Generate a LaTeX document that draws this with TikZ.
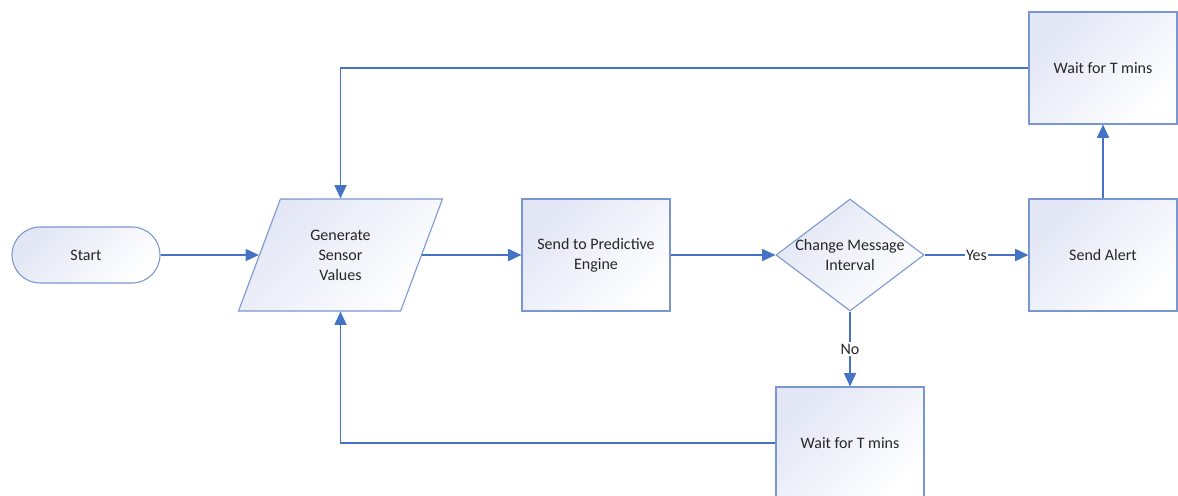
\documentclass[tikz,border=0pt]{standalone}
\usepackage{fontspec}
\setmainfont{Carlito}
\usetikzlibrary{shapes.geometric,arrows.meta}
\definecolor{flowblue}{RGB}{68,114,196}
\definecolor{edgeblue}{RGB}{122,150,208}
\definecolor{shadeblue}{RGB}{226,230,245}

\begin{document}
\begin{tikzpicture}[x=0.75pt, y=-0.75pt,
  font=\fontsize{12}{15}\selectfont,
  block/.style={draw=edgeblue, line width=0.8pt, top color=shadeblue, bottom color=white, shading angle=45, text=black!85, align=center, inner sep=2pt},
  box/.style={block, rectangle, minimum width=111pt, minimum height=84pt},
  flow/.style={draw=flowblue, line width=1.3pt, -{Triangle[length=10pt,width=9pt]}},
  tag/.style={fill=white, inner sep=1pt, text=black!85}]

\useasboundingbox (0,0) rectangle (1178,496);

\node[block, rectangle, rounded corners=21pt, minimum width=111pt, minimum height=42pt] (start) at (86,255) {Start};
\node[block, trapezium, trapezium left angle=67.7, trapezium right angle=112.3, trapezium stretches=true, minimum width=153.75pt, minimum height=84pt] (gen) at (340.5,255) {Generate\\Sensor\\Values};
\node[box] (send) at (596,255) {Send to Predictive\\Engine};
\node[block, diamond, aspect=1.32, inner sep=0pt, minimum width=111pt, minimum height=84pt, label={[align=center, text=black!85]center:Change Message\\Interval}] (dec) at (850,255) {};
\node[box] (alert) at (1103,255) {Send Alert};
\node[box] (waitA) at (1103,68) {Wait for T mins};
\node[box] (waitB) at (850,443) {Wait for T mins};

\foreach \a/\b in {start/gen, gen/send, send/dec, alert/waitA} {\draw[flow] (\a) -- (\b);}
\draw[flow] (dec) -- node[tag] {Yes} (alert);
\draw[flow] (dec) -- node[tag] {No} (waitB);
\draw[flow] (waitA.west) -| (gen.north);
\draw[flow] (waitB.west) -| (gen.south);

\end{tikzpicture}
\end{document}
